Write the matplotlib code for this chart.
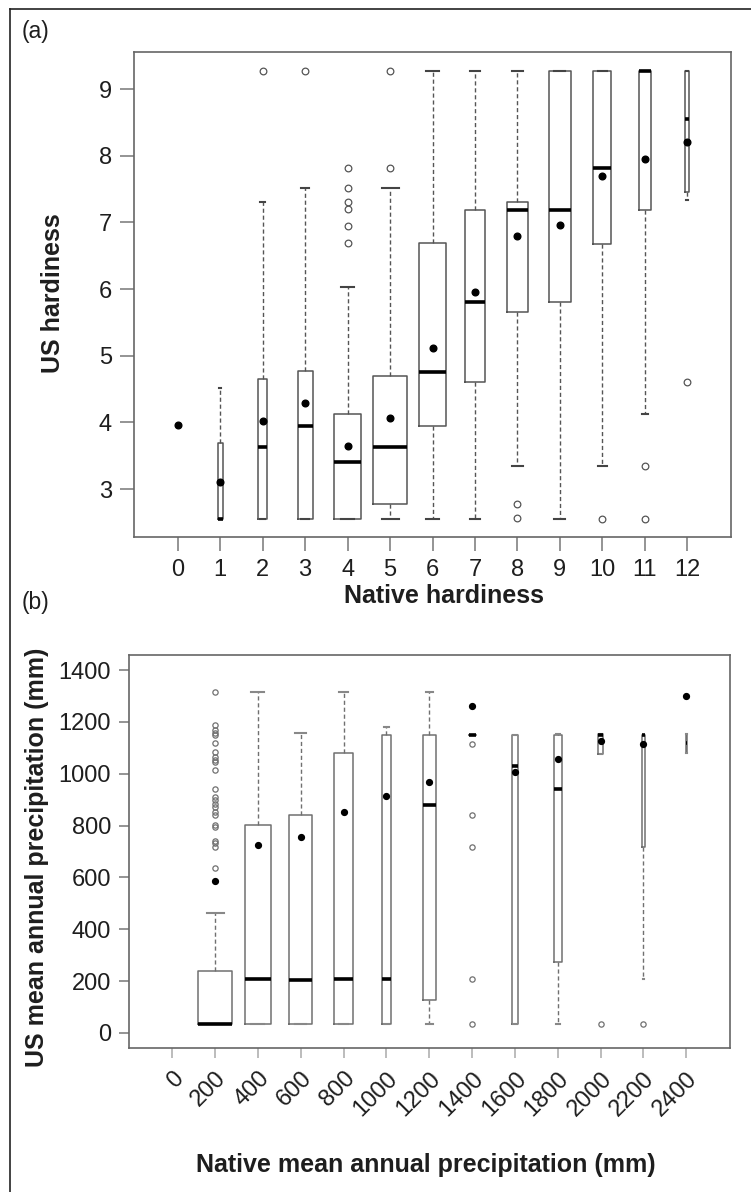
import matplotlib
matplotlib.use("Agg")
import matplotlib.pyplot as plt
from matplotlib.lines import Line2D

plt.rcParams['font.family'] = ['Liberation Sans', 'DejaVu Sans']

# (a) US hardiness by native hardiness zone
hard_pos = list(range(13))
hard_q1 = [3.96, 2.55, 2.55, 2.55, 2.55, 2.77, 3.95, 4.60, 5.66, 5.80, 6.67, 7.18, 7.45]
hard_med = [3.96, 2.55, 3.63, 3.95, 3.40, 3.63, 4.76, 5.80, 7.18, 7.18, 7.82, 9.27, 8.55]
hard_q3 = [3.96, 3.69, 4.65, 4.77, 4.13, 4.69, 6.69, 7.19, 7.30, 9.27, 9.27, 9.27, 9.27]
hard_wlo = [3.96, 2.55, 2.55, 2.55, 2.55, 2.55, 2.55, 2.55, 3.35, 2.55, 3.35, 4.13, 7.34]
hard_whi = [3.96, 4.52, 7.30, 7.52, 6.03, 7.52, 9.27, 9.27, 9.27, 9.27, 9.27, 9.27, 9.27]
hard_mean = [3.96, 3.10, 4.02, 4.29, 3.64, 4.06, 5.11, 5.96, 6.80, 6.96, 7.70, 7.95, 8.21]
hard_fliers = [[], [], [9.27], [9.27], [6.69, 6.95, 7.20, 7.31, 7.51, 7.81],
               [7.81, 9.27], [], [], [2.56, 2.77], [], [2.55], [2.55, 3.35], [4.60]]
hard_widths = [0.04, 0.12, 0.22, 0.35, 0.63, 0.80, 0.65, 0.47, 0.51, 0.52, 0.42, 0.28, 0.09]

# (b) US mean annual precipitation by native precipitation class
prec_ticks = [0, 200, 400, 600, 800, 1000, 1200, 1400, 1600, 1800, 2000, 2200, 2400]
prec_pos = list(range(1, 13))
prec_q1 = [33, 33, 33, 33, 33, 129, 1149, 33, 272, 1078, 716, 1081]
prec_med = [33, 208, 206, 208, 208, 881, 1149, 1029, 943, 1149, 1149, 1117]
prec_q3 = [239, 804, 840, 1081, 1149, 1149, 1149, 1149, 1149, 1152, 1149, 1152]
prec_wlo = [33, 33, 33, 33, 33, 33, 1149, 33, 33, 1078, 208, 1081]
prec_whi = [461, 1316, 1158, 1316, 1181, 1316, 1149, 1149, 1155, 1152, 1149, 1152]
prec_mean = [587, 727, 756, 851, 914, 969, 1261, 1007, 1056, 1126, 1113, 1301]
prec_fliers = [[1316, 1187, 1168, 1158, 1149, 1117, 1085, 1065, 1053, 1046, 1014, 943,
                911, 898, 885, 870, 853, 840, 802, 795, 740, 731, 718, 637],
               [], [], [], [], [], [33, 208, 716, 840, 1114], [], [], [33], [33], []]
prec_widths = [0.80, 0.61, 0.53, 0.43, 0.22, 0.31, 0.16, 0.16, 0.19, 0.10, 0.09, 0.03]

W, H = 751, 1192
fig = plt.figure(figsize=(W / 100, H / 100), dpi=100)

def ax_rect(l, t, r, b):
    return [l / W, 1 - b / H, (r - l) / W, (b - t) / H]

def make_stats(q1, med, q3, wlo, whi, mean, fliers):
    stats = []
    for i in range(len(q1)):
        stats.append(dict(q1=q1[i], med=med[i], q3=q3[i], whislo=wlo[i], whishi=whi[i],
                          mean=mean[i], fliers=fliers[i]))
    return stats

def draw_box(ax, stats, pos, widths, ms_out, ms_mean, col, capcol):
    ax.bxp(stats, positions=pos, widths=widths, showmeans=True, patch_artist=False,
           boxprops=dict(color=col, lw=1.1),
           medianprops=dict(color="black", lw=2.6, solid_capstyle="butt"),
           whiskerprops=dict(color=col, lw=1.0, ls=(0, (3, 2))),
           capprops=dict(color=capcol, lw=1.5),
           flierprops=dict(marker="o", mfc="none", mec=col, ms=ms_out, mew=0.9),
           meanprops=dict(marker="o", mfc="black", mec="black", ms=ms_mean))

def style_axes(ax, tlen):
    for s in ax.spines.values():
        s.set_color("#666666")
        s.set_linewidth(1.2)
    ax.tick_params(direction="out", length=tlen, width=1.1, color="#777777",
                   labelcolor="#1e1e1e", labelsize=17, pad=6)

# panel (a)
ax1 = fig.add_axes(ax_rect(134, 52, 731, 537))
draw_box(ax1, make_stats(hard_q1, hard_med, hard_q3, hard_wlo, hard_whi, hard_mean, hard_fliers),
         hard_pos, hard_widths, 4.8, 4.8, "#555555", "#444444")
ax1.set_xlim(-1.03, 13.03)
ax1.set_ylim(2.28, 9.555)
ax1.set_xticks(hard_pos)
ax1.set_xticklabels([str(p) for p in hard_pos])
ax1.set_yticks([3, 4, 5, 6, 7, 8, 9])
style_axes(ax1, 10)

# panel (b)
ax2 = fig.add_axes(ax_rect(129, 655, 730, 1048))
draw_box(ax2, make_stats(prec_q1, prec_med, prec_q3, prec_wlo, prec_whi, prec_mean, prec_fliers),
         prec_pos, prec_widths, 3.8, 4.2, "#707070", "#888888")
ax2.set_xlim(-1.01, 13.02)
ax2.set_ylim(-58, 1458)
ax2.set_xticks(range(len(prec_ticks)))
ax2.set_xticklabels([str(t) for t in prec_ticks], rotation=45, ha="right", va="top",
                    rotation_mode="anchor")
ax2.set_yticks(range(0, 1401, 200))
style_axes(ax2, 7)
ax2.tick_params(axis="x", pad=7, color="#aaaaaa")

# labels
fig.text(22 / W, 1 - 38 / H, "(a)", fontsize=16.5, color="#1e1e1e", va="baseline")
fig.text(22 / W, 1 - 609 / H, "(b)", fontsize=16.5, color="#1e1e1e", va="baseline")
fig.text(53 / W, 1 - 293 / H, "US hardiness", rotation=90, ha="center", va="center",
         fontsize=18, fontweight="bold", color="#1e1e1e")
fig.text(444 / W, 1 - 603 / H, "Native hardiness", ha="center", va="baseline",
         fontsize=18, fontweight="bold", color="#1e1e1e")
fig.text(37 / W, 1 - 857 / H, "US mean annual precipitation (mm)", rotation=90,
         ha="center", va="center", fontsize=18, fontweight="bold", color="#1e1e1e")
fig.text(426 / W, 1 - 1172 / H, "Native mean annual precipitation (mm)", ha="center",
         va="baseline", fontsize=18, fontweight="bold", color="#1e1e1e")

# outer frame (left and top edges only)
for xs, ys in [([10, 751], [9, 9]), ([10, 10], [9, 1192])]:
    fig.add_artist(Line2D([x / W for x in xs], [1 - y / H for y in ys], color="#222222", lw=1.2))

fig.savefig("out.png", dpi=100)
